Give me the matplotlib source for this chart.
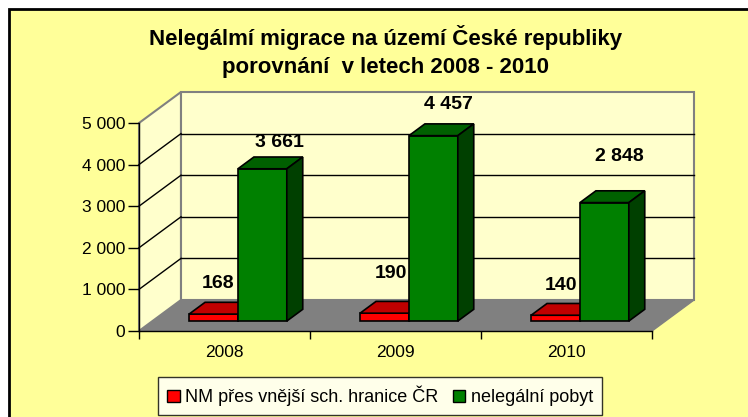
import numpy as np
import matplotlib
matplotlib.use("Agg")
import matplotlib.pyplot as plt
from matplotlib.patches import Polygon, Rectangle, Patch

# data
years = ["2008", "2009", "2010"]
nm_hranice = [168, 190, 140]
nelegalni_pobyt = [3661, 4457, 2848]
series_names = ["NM přes vnější sch. hranice ČR", "nelegální pobyt"]
yticks = [0, 1000, 2000, 3000, 4000, 5000]

# styling
W, H = 748, 417
plt.rcParams['font.family'] = ['Liberation Sans', 'DejaVu Sans']
bg = "#FFFF99"
wall = "#FFFFCC"
red = ("#FF0000", "#C00000", "#800000")      # front, top, side
green = ("#008000", "#006000", "#004000")
label_off = [[(5, 31), (6, 40), (5, 30)],      # red labels, offset pixels
             [(17, 26), (15, 31), (15, 46)]]   # green labels

fig = plt.figure(figsize=(W / 100, H / 100), dpi=100)
fig.patch.set_facecolor("white")
fig.patches.append(Rectangle((9 / W, -0.1), 1.2, 1.1 - 9 / H,
                             transform=fig.transFigure, facecolor=bg,
                             edgecolor="black", linewidth=2, zorder=-5))

fig.text(386 / W, 1 - 37 / H, "Nelegálmí migrace na území České republiky",
         ha="center", va="center", fontsize=16, fontweight="bold")
fig.text(386 / W, 1 - 67 / H, "porovnání  v letech 2008 - 2010",
         ha="center", va="center", fontsize=16, fontweight="bold")

# front plane of the 3d plot
ax = fig.add_axes([139 / W, 1 - 331 / H, 513 / W, 208 / H])
ax.set_xlim(-0.5, len(years) - 0.5)
ax.set_ylim(0, 5000)
ax.patch.set_visible(False)

# depth vector (data units)
DX = 42 / 513 * len(years)
DY = 31 / 208 * 5000
x0, x1 = -0.5, len(years) - 0.5
top = yticks[-1]

def poly(pts, fc, ec, lw=1.0, z=1):
    ax.add_patch(Polygon(pts, closed=True, facecolor=fc, edgecolor=ec,
                         linewidth=lw, clip_on=False, zorder=z))

# floor, side wall, back wall
poly([(x0, 0), (x1, 0), (x1 + DX, DY), (x0 + DX, DY)], "#808080", "#808080")
poly([(x0, 0), (x0, top), (x0 + DX, top + DY), (x0 + DX, DY)], wall, "#808080", 1.5)
poly([(x0 + DX, DY), (x1 + DX, DY), (x1 + DX, top + DY), (x0 + DX, top + DY)],
     wall, "#808080", 1.5)
for v in yticks[1:-1]:
    ax.plot([x0 + DX, x1 + DX], [v + DY, v + DY], color="black", lw=1,
            clip_on=False, zorder=1.5)
for v in yticks[1:-1]:
    ax.plot([x0, x0 + DX], [v, v + DY], color="black", lw=1,
            clip_on=False, zorder=1.5)

# bars
f0, f1 = 0.32, 0.70
bw = 1 / 3.5
z = 2
for i in range(len(years)):
    for s, (vals, cols) in enumerate([(nm_hranice, red), (nelegalni_pobyt, green)]):
        v = vals[i]
        a = i - bw + s * bw + f0 * DX
        b = a + bw
        yb = f0 * DY
        ddx, ddy = (f1 - f0) * DX, (f1 - f0) * DY
        poly([(a, yb), (b, yb), (b, yb + v), (a, yb + v)], cols[0], "black", 1.2, z)
        poly([(a, yb + v), (b, yb + v), (b + ddx, yb + v + ddy), (a + ddx, yb + v + ddy)],
             cols[1], "black", 1.2, z)
        poly([(b, yb), (b + ddx, yb + ddy), (b + ddx, yb + v + ddy), (b, yb + v)],
             cols[2], "black", 1.2, z)
        z += 1
        ax.annotate(f"{v:,}".replace(",", " "), ((a + b) / 2, yb + v),
                    xytext=label_off[s][i], textcoords="offset pixels",
                    ha="center", va="center", fontsize=14, fontweight="bold",
                    zorder=20, annotation_clip=False)

# axes
for sp in ["top", "right"]:
    ax.spines[sp].set_visible(False)
for sp in ["left", "bottom"]:
    ax.spines[sp].set_color("black")
    ax.spines[sp].set_linewidth(1)
    ax.spines[sp].set_zorder(15)
ax.set_yticks(yticks)
ax.set_yticklabels([f"{v:,}".replace(",", " ") for v in yticks], fontsize=12.5)
ax.tick_params(axis="y", length=8, width=1, pad=2)
ax.set_xticks(np.arange(len(years) + 1) - 0.5)
ax.set_xticklabels([])
ax.set_xticks(np.arange(len(years)), minor=True)
ax.set_xticklabels(years, minor=True, fontsize=12.5)
ax.tick_params(axis="x", which="major", length=6, width=1)
ax.tick_params(axis="x", which="minor", length=0, pad=10)

handles = [Patch(facecolor=red[0], edgecolor="black"),
           Patch(facecolor=green[0], edgecolor="black")]
leg = fig.legend(handles, series_names, loc="center", ncol=2,
                 bbox_to_anchor=(380 / W, 1 - 396 / H), fontsize=13,
                 frameon=True, fancybox=False, edgecolor="black",
                 handlelength=0.7, handleheight=0.7, handletextpad=0.3,
                 columnspacing=0.8, borderpad=0.5)
leg.get_frame().set_linewidth(1)

fig.savefig("out.png", dpi=100)
